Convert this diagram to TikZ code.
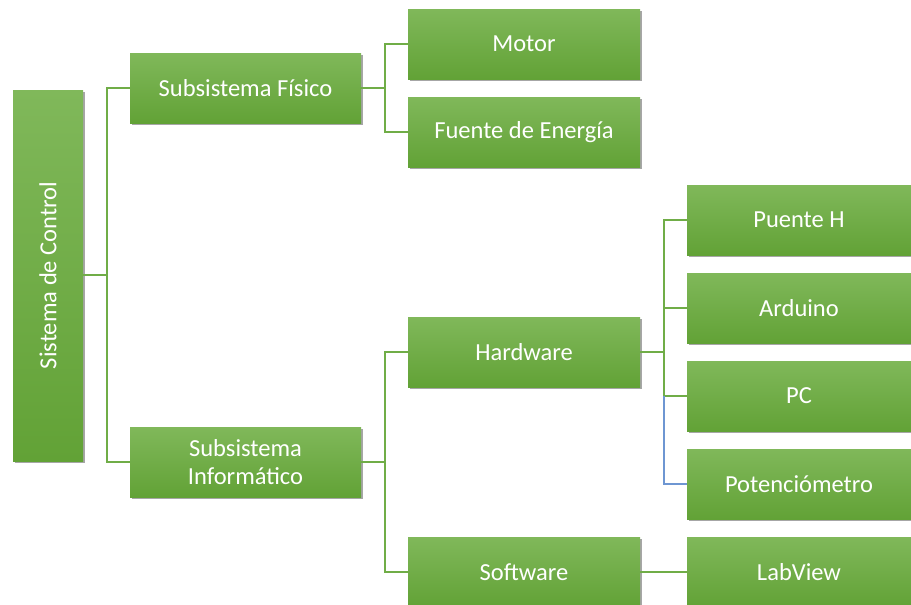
\documentclass[tikz,border=0pt]{standalone}
\usepackage{fontspec}
\setmainfont{Carlito}
\usetikzlibrary{shadows}
\definecolor{boxtop}{RGB}{128,184,90}
\definecolor{boxbot}{RGB}{98,162,54}
\definecolor{lnk}{RGB}{112,173,71}
\definecolor{lnkblue}{RGB}{110,150,210}
\tikzset{
  gbox/.style={rectangle, top color=boxtop, bottom color=boxbot, draw=none,
    text=white, font=\fontsize{24.5}{28}\selectfont, align=center,
    inner sep=0pt, drop shadow={shadow xshift=1.5pt, shadow yshift=-1.5pt, opacity=0.35, fill=black}},
  lvl1/.style={gbox, minimum width=231pt, minimum height=70pt},
  lvl3/.style={gbox, minimum width=224pt, minimum height=70pt},
  conn/.style={draw=lnk, line width=1.8pt},
  connb/.style={draw=lnkblue, line width=1.2pt}
}
\begin{document}
\begin{tikzpicture}[x=1pt,y=-1pt]
\useasboundingbox (0,0) rectangle (911,605);
% root
\node[gbox, minimum width=70pt, minimum height=371pt] (root) at (48,275.5) {};
\node[rotate=90, text=white, font=\fontsize{24.5}{28}\selectfont] (roottxt) at (root.center) {Sistema de Control};
% level 1
\node[lvl1] (fis) at (245.5,88) {Subsistema Físico};
\node[lvl1] (inf) at (245.5,462) {Subsistema\\Informático};
% level 2
\node[lvl1, minimum width=232pt] (mot) at (524,44) {Motor};
\node[lvl1, minimum width=232pt] (fue) at (524,132) {Fuente de Energía};
\node[lvl1, minimum width=232pt] (hw) at (524,352) {Hardware};
\node[lvl1, minimum width=232pt] (sw) at (524,572) {Software};
% level 3
\node[lvl3] (ph) at (799,220) {Puente H};
\node[lvl3] (ard) at (799,308) {Arduino};
\node[lvl3] (pc) at (799,396) {PC};
\node[lvl3] (pot) at (799,484) {Potenciómetro};
\node[lvl3] (lab) at (799,572) {LabView};
% connectors
\coordinate (j0) at (107,0);
\coordinate (j1) at (385,0);
\coordinate (j2) at (664,0);
\coordinate (r0) at (83,275);
\draw[conn] (r0) -- (r0 -| j0);
\draw[conn] (fis.west) -| (j0 |- r0) |- (inf.west);
\draw[conn] (fis.east) -- (fis.east -| j1);
\draw[conn] (mot.west) -| (j1 |- fis.east) |- (fue.west);
\draw[conn] (inf.east) -- (inf.east -| j1);
\draw[conn] (hw.west) -| (j1 |- inf.east) |- (sw.west);
\draw[conn] (hw.east) -- (hw.east -| j2);
\draw[conn] (ph.west) -| (j2 |- hw.east) |- (pc.west);
\draw[conn] (ard.west) -- (ard.west -| j2);
\draw[connb] (j2 |- pc.west) |- (pot.west);
\draw[conn] (sw.east) -- (lab.west);
\end{tikzpicture}
\end{document}
